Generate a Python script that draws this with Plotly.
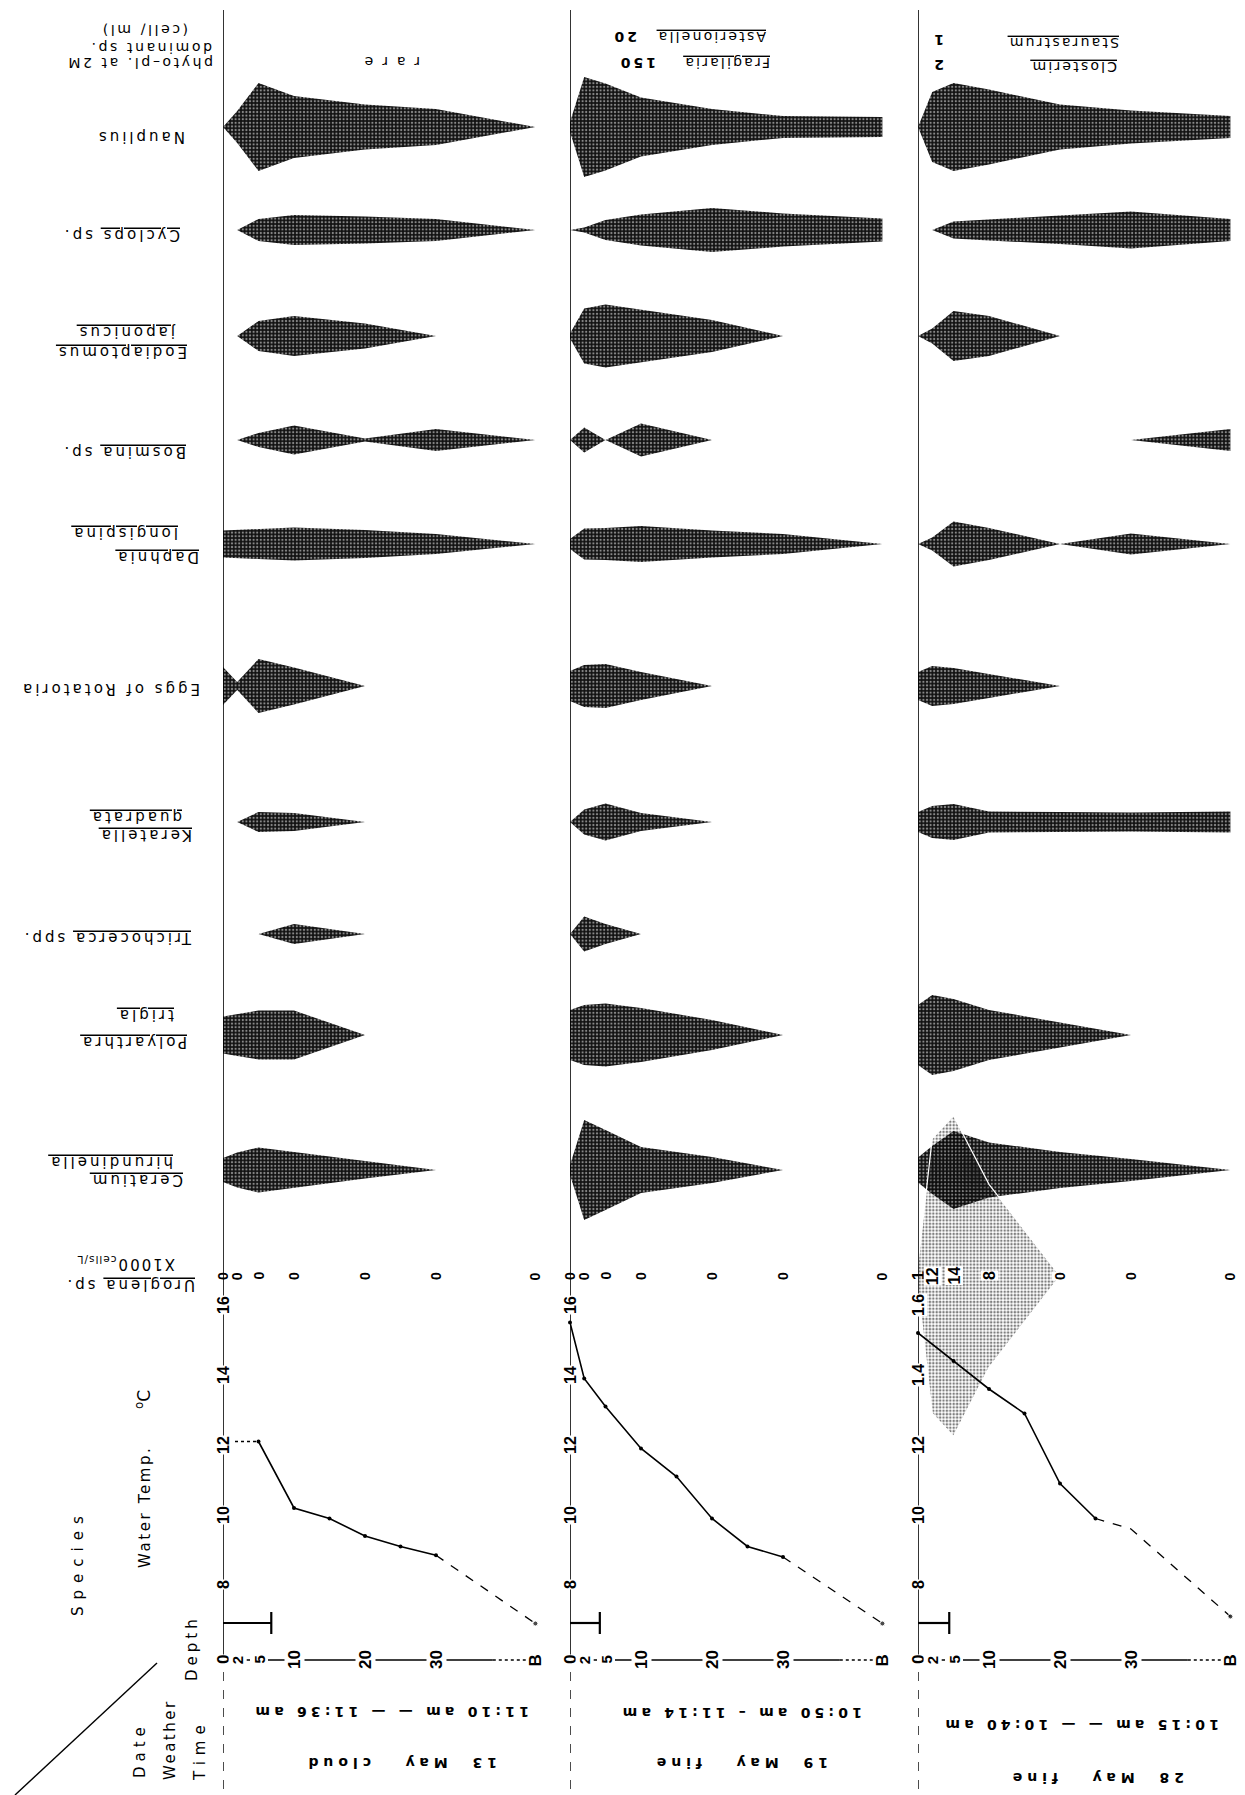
import plotly.graph_objects as go

FIG_W, FIG_H = 1245, 1795

# ---------------- sampling grid ----------------
DEPTH_TICKS = ["0", "2", "5", "10", "20", "30", "B"]
DEPTHS = [0, 2, 5, 10, 20, 30, 44]  # bottom sample ("B") sits at 44 on the broken depth scale

DATES = ["13  May", "19  May", "28  May"]
WEATHER = ["cloud", "fine", "fine"]
TIMES = ["11:10 am — — 11:36 am", "10:50 am – 11:14 am", "10:15 am — — 10:40 am"]

# ---------------- zooplankton: relative density at each sampling depth (13, 19, 28 May) ----------------
NAUPLIUS = [[0, 32, 88, 62, 45, 36, 0], [10, 100, 87, 59, 36, 22, 20], [0, 70, 88, 75, 45, 33, 22]]
CYCLOPS = [[0, 0, 22, 30, 27, 22, 0], [0, 5, 20, 31, 44, 33, 23], [0, 0, 17, 21, 28, 37, 22]]
EODIAPTOMUS = [[0, 0, 30, 40, 25, 0, 0], [5, 55, 63, 53, 32, 0, 0], [0, 15, 50, 40, 0, 0, 0]]
BOSMINA = [[0, 0, 14, 29, 3, 22, 0], [0, 25, 0, 33, 0, 0, 0], [0, 0, 0, 0, 0, 0, 22]]
DAPHNIA = [[27, 28, 30, 33, 28, 20, 0], [10, 31, 32, 36, 27, 20, 0], [0, 13, 45, 32, 0, 21, 0]]
ROTATORIA_EGGS = [[38, 8, 54, 37, 0, 0, 0], [30, 42, 44, 28, 0, 0, 0], [28, 40, 36, 24, 0, 0, 0]]
KERATELLA = [[0, 0, 20, 18, 0, 0, 0], [0, 25, 37, 18, 0, 0, 0], [20, 32, 36, 21, 20, 19, 21]]
TRICHOCERCA = [[0, 0, 0, 20, 0, 0, 0], [0, 35, 20, 0, 0, 0, 0], [0, 0, 0, 0, 0, 0, 0]]
POLYARTHRA = [[37, 42, 49, 49, 0, 0, 0], [50, 60, 63, 54, 30, 0, 0], [60, 80, 72, 50, 25, 0, 0]]
CERATIUM = [[24, 35, 45, 36, 17, 0, 0], [10, 100, 80, 46, 26, 0, 0], [25, 48, 78, 55, 36, 22, 0]]

# Uroglena sp. (x1000 cells/L)
UROGLENA = [[0, 0, 0, 0, 0, 0, 0], [0, 0, 0, 0, 0, 0, 0], [1, 12, 14, 8, 0, 0, 0]]

# ---------------- water temperature profiles ----------------
TEMP_DEPTHS = [[0, 5, 10, 15, 20, 25, 30, 44],
               [0, 2, 5, 10, 15, 20, 25, 30, 44],
               [0, 5, 10, 15, 20, 25, 30, 44]]
TEMPS = [[12.1, 12.1, 10.2, 9.9, 9.4, 9.1, 8.85, 6.9],
         [15.5, 13.9, 13.1, 11.9, 11.1, 9.9, 9.1, 8.8, 6.9],
         [15.2, 14.4, 13.6, 12.9, 10.9, 9.9, 9.6, 7.1]]
SOLID_SPAN = [(1, 6), (0, 7), (0, 5)]  # index range drawn solid, the rest dotted
TEMP_TICK_VALUES = [8, 10, 12, 14, 16]
TEMP_TICK_TEXT = [["8", "10", "12", "14", "16"], ["8", "10", "12", "14", "16"], ["8", "10", "12", "1.4", "1.6"]]

# transparency (m)
SECCHI = [6.8, 4.2, 4.4]

# dominant phytoplankton at 2 m (cell/ml)
PHYTO_NAMES = [["r a r e"], ["Fragilaria", "Asterionella"], ["Closterim", "Staurastrum"]]
PHYTO_COUNTS = [[""], ["150", "20"], ["2", "1"]]

# ---------------- layout constants (pixels) ----------------
X0_PX = [223, 570, 918]          # depth 0 of each date column
PX_PER_M = 7.1
ROW_Y = [127, 230, 336, 440, 544, 686, 822, 934, 1035, 1170]
ROW_HALF = 60
URO_Y, URO_HALF, URO_PX_PER_UNIT = 1276, 190, 22.9
TEMP_TOP, TEMP_BOTTOM = 1290, 1660
TEMP_PX_PER_DEG, TEMP8_Y = 35.0, 1585
DEPTH_AXIS_Y = 1660
SECCHI_Y = 1623
LINE_TOP = 10

XREF = ["x", "x2", "x3"]
SERIES = [NAUPLIUS, CYCLOPS, EODIAPTOMUS, BOSMINA, DAPHNIA, ROTATORIA_EGGS,
          KERATELLA, TRICHOCERCA, POLYARTHRA, CERATIUM]


def py(px):
    return 1 - px / FIG_H


def px_(x):
    return x / FIG_W


def sp(text, ls=3, u=False):
    style = "letter-spacing:%spx" % ls
    if u:
        style += ";text-decoration:underline"
    return '<span style="%s">%s</span>' % (style, text)


layout = dict(width=FIG_W, height=FIG_H, margin=dict(l=0, r=0, t=0, b=0),
              paper_bgcolor="white", plot_bgcolor="rgba(0,0,0,0)", showlegend=False)

for i in range(3):
    lo = X0_PX[i]
    hi = min(X0_PX[i] + 47 * PX_PER_M, FIG_W)
    layout["xaxis" if i == 0 else "xaxis%d" % (i + 1)] = dict(
        domain=[px_(lo), px_(hi)], range=[0, (hi - lo) / PX_PER_M], visible=False)

for k, c in enumerate(ROW_Y):
    layout["yaxis" if k == 0 else "yaxis%d" % (k + 1)] = dict(
        domain=[py(c + ROW_HALF), py(c - ROW_HALF)], range=[-ROW_HALF, ROW_HALF],
        visible=False, anchor="x")
layout["yaxis11"] = dict(domain=[py(URO_Y + URO_HALF), py(URO_Y - URO_HALF)],
                         range=[-URO_HALF / URO_PX_PER_UNIT, URO_HALF / URO_PX_PER_UNIT],
                         visible=False, anchor="x")
layout["yaxis12"] = dict(domain=[py(TEMP_BOTTOM), py(TEMP_TOP)],
                         range=[8 - (TEMP_BOTTOM - TEMP8_Y) / TEMP_PX_PER_DEG,
                                8 + (TEMP8_Y - TEMP_TOP) / TEMP_PX_PER_DEG],
                         visible=False, anchor="x")

fig = go.Figure()


def outline(depths, widths):
    xs = list(depths) + list(depths[::-1])
    ys = [w / 2 for w in widths] + [-w / 2 for w in widths[::-1]]
    return xs, ys


# spindle diagrams for each species and date
for k, series in enumerate(SERIES):
    yref = "y" if k == 0 else "y%d" % (k + 1)
    for p in range(3):
        vals = series[p]
        if not any(vals):
            continue
        xs, ys = outline(DEPTHS, vals)
        fig.add_trace(go.Scatter(
            x=xs, y=ys, xaxis=XREF[p], yaxis=yref, mode="lines", fill="toself",
            line=dict(width=0, color="#111"), fillcolor="#111",
            fillpattern=dict(shape=".", fgcolor="white", bgcolor="#111",
                             size=3.6, solidity=0.3),
            hoverinfo="skip"))

# Uroglena bloom (light stipple)
for p in range(3):
    vals = UROGLENA[p]
    if not any(vals):
        continue
    xs, ys = outline(DEPTHS, vals)
    fig.add_trace(go.Scatter(
        x=xs, y=ys, xaxis=XREF[p], yaxis="y11", mode="lines", fill="toself",
        line=dict(width=1.2, color="white"), fillcolor="rgba(0,0,0,0)",
        fillpattern=dict(shape=".", fgcolor="black", bgcolor="rgba(0,0,0,0)",
                         size=3.4, solidity=0.45),
        hoverinfo="skip"))

# temperature profiles
for p in range(3):
    d, t = TEMP_DEPTHS[p], TEMPS[p]
    a, b = SOLID_SPAN[p]
    fig.add_trace(go.Scatter(x=d[a:b + 1], y=t[a:b + 1], xaxis=XREF[p], yaxis="y12",
                             mode="lines+markers", line=dict(color="black", width=1.6),
                             marker=dict(size=4, color="black"), cliponaxis=False,
                             hoverinfo="skip"))
    if a > 0:
        fig.add_trace(go.Scatter(x=d[:a + 1], y=t[:a + 1], xaxis=XREF[p], yaxis="y12",
                                 mode="lines", line=dict(color="black", width=1.3, dash="dot"),
                                 cliponaxis=False, hoverinfo="skip"))
    fig.add_trace(go.Scatter(x=d[b:], y=t[b:], xaxis=XREF[p], yaxis="y12",
                             mode="lines+markers", line=dict(color="black", width=1.3, dash="dash"),
                             marker=dict(size=[0] * (len(d[b:]) - 1) + [5], color="black"),
                             cliponaxis=False, hoverinfo="skip"))

shapes = []
for p in range(3):
    xr = XREF[p]
    # column line
    shapes.append(dict(type="line", xref=xr, yref="paper", x0=0, x1=0,
                       y0=py(LINE_TOP), y1=py(DEPTH_AXIS_Y), line=dict(color="black", width=1.6)))
    shapes.append(dict(type="line", xref=xr, yref="paper", x0=0, x1=0,
                       y0=py(DEPTH_AXIS_Y + 12), y1=py(FIG_H), line=dict(color="black", width=1.4, dash="dash")))
    # depth axis
    shapes.append(dict(type="line", xref=xr, yref="paper", x0=0, x1=38,
                       y0=py(DEPTH_AXIS_Y), y1=py(DEPTH_AXIS_Y), line=dict(color="black", width=1.6)))
    shapes.append(dict(type="line", xref=xr, yref="paper", x0=38, x1=DEPTHS[-1],
                       y0=py(DEPTH_AXIS_Y), y1=py(DEPTH_AXIS_Y), line=dict(color="black", width=1.4, dash="dot")))
    # transparency bar
    shapes.append(dict(type="line", xref=xr, yref="paper", x0=0, x1=SECCHI[p],
                       y0=py(SECCHI_Y), y1=py(SECCHI_Y), line=dict(color="black", width=2.2)))
    shapes.append(dict(type="line", xref=xr, yref="paper", x0=SECCHI[p], x1=SECCHI[p],
                       y0=py(SECCHI_Y - 11), y1=py(SECCHI_Y + 11), line=dict(color="black", width=2.2)))
# corner diagonal
shapes.append(dict(type="line", xref="paper", yref="paper", x0=px_(15), y0=py(1795),
                   x1=px_(157), y1=py(1663), line=dict(color="black", width=1.4)))
layout["shapes"] = shapes

ann = []
FONT = "DejaVu Sans"


def note(text, x, y, angle=180, size=15, xref="paper", yref="paper", bg=None,
         bold=False, family=FONT, xanchor="center", yanchor="middle"):
    d = dict(text=text, x=x, y=y, xref=xref, yref=yref, textangle=angle, showarrow=False,
             xanchor=xanchor, yanchor=yanchor,
             font=dict(family=family, size=size, color="black",
                       weight="bold" if bold else "normal"))
    if bg:
        d.update(bgcolor=bg, borderpad=0)
    ann.append(d)


# species names (printed upside down)
SPECIES_LINES = [
    [(sp("Nauplius"), 141, 137)],
    [(sp("Cyclops", u=True) + sp(" sp."), 121, 235)],
    [(sp("Eodiaptomus", u=True), 122, 352), (sp("japonicus", u=True), 127, 332)],
    [(sp("Bosmina", u=True) + sp(" sp."), 124, 452)],
    [(sp("Daphnia", u=True), 157, 557), (sp("longispina", u=True), 125, 533)],
    [(sp("Eggs of Rotatoria"), 110, 689)],
    [(sp("Keratella", u=True), 146, 835), (sp("quadrata", u=True), 136, 817)],
    [(sp("Trichocerca", u=True) + sp(" spp."), 107, 938)],
    [(sp("Polyarthra", u=True), 134, 1042), (sp("trigla", u=True), 146, 1015)],
    [(sp("Ceratium", u=True), 137, 1180), (sp("hirundinella", u=True), 111, 1162)],
    [(sp("Uroglena", u=True) + sp(" sp."), 130, 1285),
     (sp("X1000", 2) + "<sub>" + sp("cells/L", 1) + "</sub>", 126, 1264)],
]
for lines in SPECIES_LINES:
    for text, cx, cy in lines:
        note(text, px_(cx), py(cy), size=15)

# phytoplankton header
note(sp("phyto–pl. at 2M", 2.6), px_(140), py(63), size=14)
note(sp("dominant sp.", 2.6), px_(151), py(48), size=14)
note(sp("(cell/ ml)", 2.6), px_(144), py(30), size=14)
PHYTO_NAME_POS = [[(392, 62)], [(727, 63), (712, 37)], [(1074, 67), (1064, 43)]]
PHYTO_COUNT_POS = [[(0, 0)], [(637, 63), (625, 37)], [(938, 65), (938, 40)]]
for p in range(3):
    for j, name in enumerate(PHYTO_NAMES[p]):
        cx, cy = PHYTO_NAME_POS[p][j]
        note(sp(name, 2.2, u=(p > 0)), px_(cx), py(cy), size=14)
        cnt = PHYTO_COUNTS[p][j]
        if cnt:
            cx, cy = PHYTO_COUNT_POS[p][j]
            note(sp(cnt, 3), px_(cx), py(cy), size=14, bold=True)

# Uroglena counts
for p in range(3):
    for j, v in enumerate(UROGLENA[p]):
        note(str(v), DEPTHS[j], 0, angle=-90, size=14 if v == 0 else 16, bold=True,
             xref=XREF[p], yref="y11", bg=None if j == 0 else "white",
             family="Liberation Sans")

# temperature axis labels
for p in range(3):
    for v, lab in zip(TEMP_TICK_VALUES, TEMP_TICK_TEXT[p]):
        note(lab, 0, v, angle=-90, size=16, bold=True, xref=XREF[p], yref="y12",
             bg="white", family="Liberation Sans")

# depth axis labels
for p in range(3):
    for j, lab in enumerate(DEPTH_TICKS):
        small = lab in ("2", "5")
        note(lab, DEPTHS[j], py(DEPTH_AXIS_Y), angle=-90, size=15 if small else 17,
             bold=True, xref=XREF[p], bg="white", family="Liberation Sans")

# date / weather / time rows (upside down)
TIME_POS = [(390, 1712), (740, 1713), (1080, 1725)]
DATE_POS = [(400, 1763), (740, 1763), (1096, 1778)]
for p in range(3):
    note(sp(TIMES[p], 4.2), px_(TIME_POS[p][0]), py(TIME_POS[p][1]), size=14, bold=True)
    note(sp(DATES[p] + "   " + WEATHER[p], 5), px_(DATE_POS[p][0]), py(DATE_POS[p][1]), size=14, bold=True)

# row headings (rotated)
note(sp("Species", 7), px_(78), py(1563), angle=-90, size=15)
note(sp("Water Temp.", 2.6), px_(145), py(1507), angle=-90, size=15)
note("<sup>o</sup>C", px_(143), py(1400), angle=-90, size=17)
note(sp("Depth", 4), px_(192), py(1648), angle=-90, size=15)
note(sp("Date", 5), px_(140), py(1750), angle=-90, size=15)
note(sp("Weather", 2.5), px_(170), py(1740), angle=-90, size=15)
note(sp("Time", 6), px_(200), py(1750), angle=-90, size=15)

layout["annotations"] = ann
fig.update_layout(**layout)
fig.write_html("out.html")
